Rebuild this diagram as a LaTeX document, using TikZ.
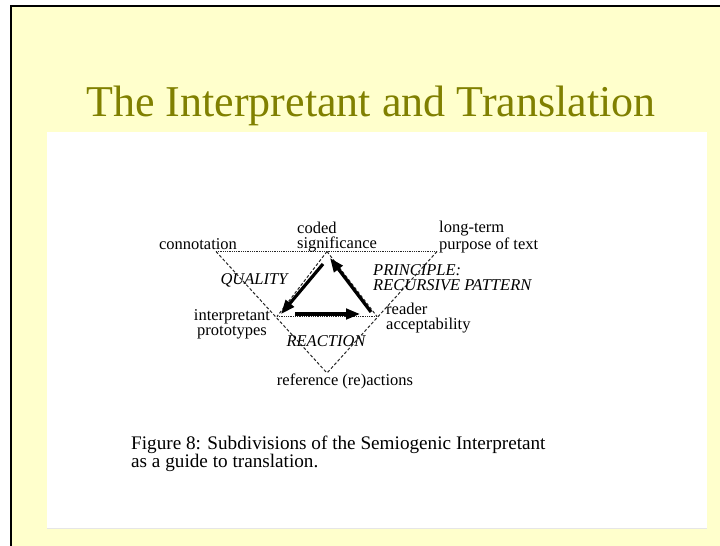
\documentclass[tikz,border=0pt]{standalone}
\usepackage{fontspec}
\setmainfont{Liberation Serif}
\usetikzlibrary{arrows.meta}
\definecolor{slidebg}{HTML}{FFFFCC}
\definecolor{titleolive}{HTML}{808000}
\definecolor{paneledge}{HTML}{E6E6E6}
\tikzset{
  lbl/.style={inner sep=0pt, font=\fontsize{16.5}{14.5}\selectfont},
  ilbl/.style={lbl, font=\fontsize{16.5}{15}\selectfont\itshape},
  fine dots/.style={line width=0.8pt, dash pattern=on 0.9pt off 0.9pt, black!85},
  short dashes/.style={line width=1pt, dash pattern=on 3pt off 2pt, black!85},
  flow/.style={line width=3.2pt, -{Triangle[length=14pt,width=10.5pt]}},
}
\begin{document}
\begin{tikzpicture}[x=1pt,y=-1pt]
\useasboundingbox (0,0) rectangle (720,546);
% slide background and its frame
\fill[white] (0,0) rectangle (720,546);
\fill[slidebg] (11,6) rectangle (720,546);
\draw[line width=2pt] (11,546) -- (11,6) -- (720,6);
% figure panel
\fill[white] (47,132) rectangle (707,528);
\draw[paneledge, line width=1pt] (47,528) -- (707,528);
% title
\node[inner sep=0pt, anchor=base, text=titleolive, font=\fontsize{44}{50}\selectfont] (title) at (371,116) {The Interpretant and Translation};

% corners of the outer and inner triangles
\coordinate (conn) at (216,251.5);
\coordinate (long) at (437,251.5);
\coordinate (apex) at (327,251.5);
\coordinate (left) at (277,316.5);
\coordinate (right) at (377,316.5);
\coordinate (bottom) at (327,373);

% outer triangle
\draw[fine dots] (conn) -- (long);
\draw[short dashes] (conn) -- (bottom);
\draw[short dashes] (long) -- (bottom);
% inner triangle
\draw[short dashes] (apex) -- (left);
\draw[short dashes] (apex) -- (right);
\draw[fine dots] (left) -- (right);

% semiosis cycle
\coordinate (a1s) at (323,264);
\coordinate (a1e) at (281,314);
\coordinate (a2s) at (295,314);
\coordinate (a2e) at (360,314);
\coordinate (a3s) at (371,312);
\coordinate (a3e) at (330,258);
\draw[flow] (a1s) -- (a1e);
\draw[flow] (a2s) -- (a2e);
\draw[flow] (a3s) -- (a3e);

% labels (multi-line nodes are anchored at the baseline of their last line)
\node[lbl, anchor=base] (connotation) at (198,249) {connotation};
\node[lbl, anchor=base west, align=left] (coded) at (297,248) {coded\\significance};
\node[lbl, anchor=base west, align=left] (longterm) at (439,249) {long-term\\purpose of text};
\node[ilbl, anchor=base] (quality) at (254,284) {QUALITY};
\node[ilbl, anchor=base west, align=left] (principle) at (373,290) {PRINCIPLE:\\RECURSIVE PATTERN};
\node[lbl, anchor=base, align=center] (interp) at (232,335) {interpretant\\prototypes};
\node[lbl, anchor=base west, align=left] (reader) at (386,329) {reader\\acceptability};
\node[ilbl, anchor=base] (reaction) at (326,346) {REACTION};
\node[lbl, anchor=base] (reference) at (345,385) {reference (re)actions};

% caption
\node[inner sep=0pt, anchor=base west, align=left, font=\fontsize{19.2}{18}\selectfont] (caption) at (131,467) {Figure 8: Subdivisions of the Semiogenic Interpretant\\as a guide to translation.};
\end{tikzpicture}
\end{document}
